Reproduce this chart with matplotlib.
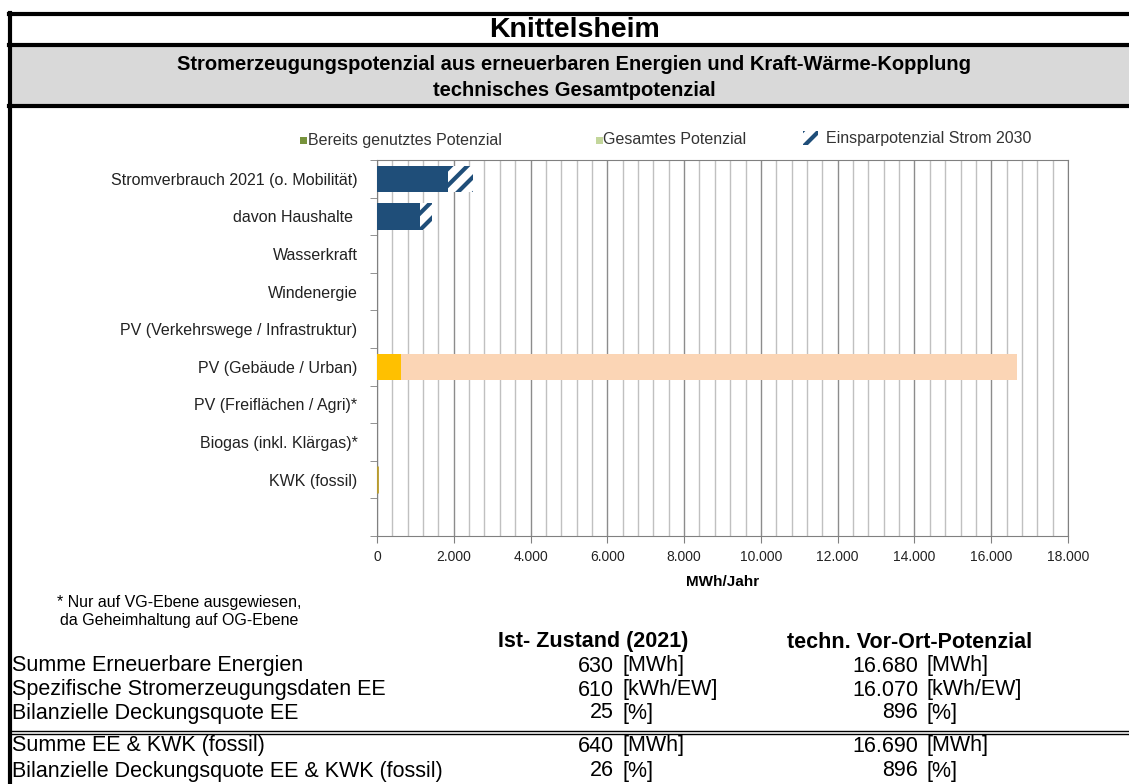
import numpy as np
import matplotlib
matplotlib.use("Agg")
import matplotlib.pyplot as plt
from matplotlib.patches import Rectangle
from matplotlib.lines import Line2D
from matplotlib.ticker import MultipleLocator, FuncFormatter

# data (MWh/Jahr)
categories = ["Stromverbrauch 2021 (o. Mobilität)", "davon Haushalte ", "Wasserkraft",
              "Windenergie", "PV (Verkehrswege / Infrastruktur)", "PV (Gebäude / Urban)",
              "PV (Freiflächen / Agri)*", "Biogas (inkl. Klärgas)*", "KWK (fossil)", ""]
verbrauch_2030 = [1862, 1130, 0, 0, 0, 0, 0, 0, 0, 0]
einsparung = [638, 300, 0, 0, 0, 0, 0, 0, 0, 0]
genutzt = [0, 0, 0, 0, 0, 630, 0, 0, 10, 0]
potenzial_rest = [0, 0, 0, 0, 0, 16050, 0, 0, 0, 0]

genutzt_colors = ['#FFC000'] * 8 + ['#B89B2E', '#FFC000']
rest_colors = ['#FBD5B5'] * 10

legend_labels = ["Bereits genutztes Potenzial", "Gesamtes Potenzial", "Einsparpotenzial Strom 2030"]

table_rows = ["Summe Erneuerbare Energien", "Spezifische Stromerzeugungsdaten EE",
              "Bilanzielle Deckungsquote EE", "Summe EE & KWK (fossil)",
              "Bilanzielle Deckungsquote EE & KWK (fossil)"]
ist_values = ["630", "610", "25", "640", "26"]
pot_values = ["16.680", "16.070", "896", "16.690", "896"]
units = ["[MWh]", "[kWh/EW]", "[%]", "[MWh]", "[%]"]

plt.rcParams['font.family'] = ['Liberation Sans', 'DejaVu Sans']
plt.rcParams['hatch.linewidth'] = 3.0

W, H = 1129, 784
fig = plt.figure(figsize=(W / 100, H / 100), dpi=100)


def fx(px):
    return px / W


def fy(py):
    return 1 - py / H


def hline(y, x0=9, x1=W, lw=3):
    fig.add_artist(Line2D([fx(x0), fx(x1)], [fy(y), fy(y)], color='black', lw=lw,
                          transform=fig.transFigure))


# header
fig.add_artist(Rectangle((fx(10), fy(106)), 1, (106 - 45) / H, facecolor='#D9D9D9',
                         edgecolor='none', transform=fig.transFigure))
hline(14)
hline(45)
hline(106)
fig.add_artist(Line2D([fx(10), fx(10)], [fy(13), 0], color='black', lw=3,
                      transform=fig.transFigure))
fig.text(fx(574), fy(30), "Knittelsheim", ha='center', va='center', fontsize=20.5, fontweight='bold')
fig.text(fx(574), fy(64), "Stromerzeugungspotenzial aus erneuerbaren Energien und Kraft-Wärme-Kopplung",
         ha='center', va='center', fontsize=14.5, fontweight='bold')
fig.text(fx(574), fy(91), "technisches Gesamtpotenzial", ha='center', va='center',
         fontsize=14.5, fontweight='bold')

# chart
ax = fig.add_axes([fx(377), fy(536), fx(1068) - fx(377), (536 - 160) / H])
y = np.arange(len(categories))
ax.barh(y, verbrauch_2030, height=0.7, color='#1F4E79', zorder=3)
ax.barh(y, einsparung, left=verbrauch_2030, height=0.7, color='white', edgecolor='#1F4E79',
        hatch='//', linewidth=0, zorder=3)
ax.barh(y, genutzt, height=0.7, color=genutzt_colors, edgecolor=genutzt_colors,
        linewidth=[0] * 8 + [2, 0], zorder=4)
ax.barh(y, potenzial_rest, left=genutzt, height=0.7, color=rest_colors, zorder=3)

ax.set_xlim(0, 18000)
ax.set_ylim(len(categories) - 0.5, -0.5)
ax.xaxis.set_major_locator(MultipleLocator(2000))
ax.xaxis.set_minor_locator(MultipleLocator(400))
ax.xaxis.set_major_formatter(FuncFormatter(lambda v, p: '{:,.0f}'.format(v).replace(',', '.')))
ax.grid(which='minor', axis='x', color='#c0c0c0', lw=1, zorder=0)
ax.grid(which='major', axis='x', color='#8c8c8c', lw=1, zorder=1)
ax.set_axisbelow(True)

ax.set_yticks(y)
ax.set_yticklabels(categories, fontsize=11.5, color='#222222')
ax.set_yticks(np.arange(-0.5, len(categories), 1), minor=True)
ax.tick_params(axis='y', which='major', length=0, pad=14)
ax.tick_params(axis='y', which='minor', length=5, color='#808080')
ax.tick_params(axis='x', which='major', length=5, color='#808080', labelsize=10,
               labelcolor='#222222', pad=5)
ax.tick_params(axis='x', which='minor', length=0)
for s in ax.spines.values():
    s.set_color('#808080')
ax.set_xlabel("MWh/Jahr", fontsize=11, fontweight='bold', labelpad=8)

# legend
leg_y = 140
fig.add_artist(Rectangle((fx(300), fy(leg_y + 4)), 7 / W, 7 / H, facecolor='#77933C',
                         edgecolor='none', transform=fig.transFigure))
fig.text(fx(308), fy(leg_y), legend_labels[0], ha='left', va='center', fontsize=11.5, color='#333333')
fig.add_artist(Rectangle((fx(596), fy(leg_y + 4)), 7 / W, 7 / H, facecolor='#C3D69B',
                         edgecolor='none', transform=fig.transFigure))
fig.text(fx(603), fy(leg_y), legend_labels[1], ha='left', va='center', fontsize=11.5, color='#333333')
fig.add_artist(Rectangle((fx(803), fy(leg_y + 5)), 15 / W, 14 / H, facecolor='white',
                         edgecolor='#1F4E79', hatch='//', linewidth=0, transform=fig.transFigure))
fig.text(fx(826), fy(leg_y - 2), legend_labels[2], ha='left', va='center', fontsize=11.5, color='#333333')

# footnote
fig.text(fx(57), fy(602), "* Nur auf VG-Ebene ausgewiesen,", ha='left', va='center', fontsize=11.5)
fig.text(fx(60), fy(620), "da Geheimhaltung auf OG-Ebene", ha='left', va='center', fontsize=11.5)

# table
fs = 15.5
fig.text(fx(593), fy(642), "Ist- Zustand (2021)", ha='center', va='center', fontsize=fs,
         fontweight='bold')
fig.text(fx(910), fy(642), "techn. Vor-Ort-Potenzial", ha='center', va='center', fontsize=fs,
         fontweight='bold')
row_y = [666, 690, 713, 746, 771]
for name, iv, pv, unit, ry in zip(table_rows, ist_values, pot_values, units, row_y):
    fig.text(fx(12), fy(ry), name, ha='left', va='center', fontsize=fs)
    fig.text(fx(614), fy(ry), iv, ha='right', va='center', fontsize=fs)
    fig.text(fx(623), fy(ry), unit, ha='left', va='center', fontsize=fs)
    fig.text(fx(918), fy(ry), pv, ha='right', va='center', fontsize=fs)
    fig.text(fx(927), fy(ry), unit, ha='left', va='center', fontsize=fs)
hline(731, lw=1)
hline(734, lw=1)

fig.savefig("out.png", dpi=100)
